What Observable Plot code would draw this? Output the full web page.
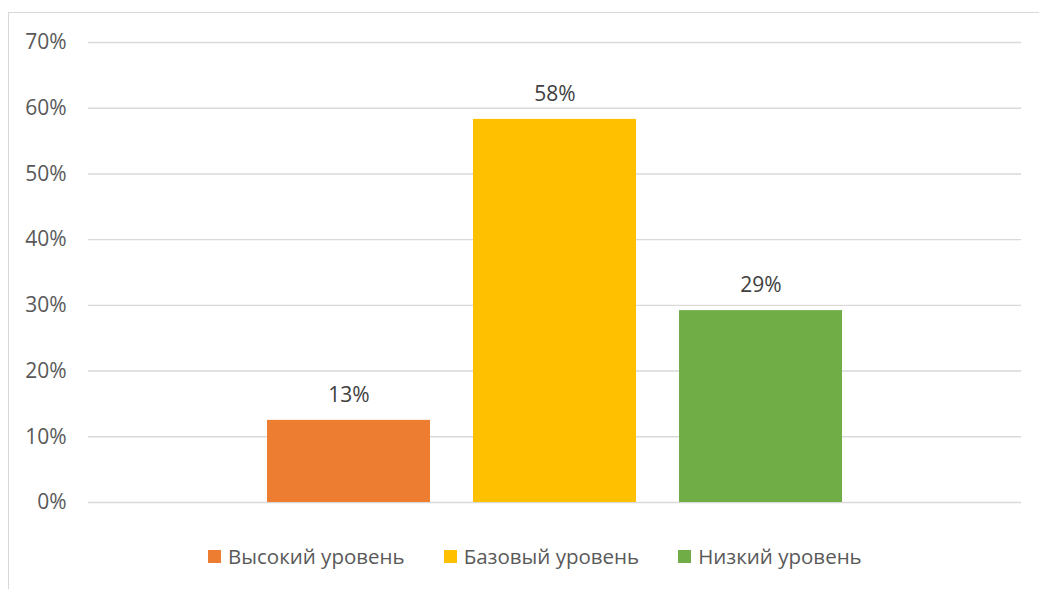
<!DOCTYPE html>
<html>
<head>
<meta charset="utf-8">
<script src="https://cdn.jsdelivr.net/npm/d3@7"></script>
<script src="https://cdn.jsdelivr.net/npm/@observablehq/plot@0.6"></script>
<style>
  html, body { margin: 0; padding: 0; background: #fff; overflow: hidden; width: 1039px; height: 589px; }
  #frame { position: absolute; left: 8px; top: 12px; width: 2000px; height: 2000px; border: 1.5px solid #d9d9d9; box-sizing: border-box; }
  #chart { position: absolute; left: 0; top: 0; }
  #legend { position: absolute; left: 208px; top: 542px; display: flex; align-items: center; font-family: "Open Sans", sans-serif; font-size: 20.5px; color: #595959; white-space: nowrap; }
  .item { display: flex; align-items: center; margin-right: 39px; }
  .sw { width: 13px; height: 13px; margin-right: 7px; }
</style>
</head>
<body>
<div id="frame"></div>
<div id="chart"></div>
<div id="legend"></div>
<script>
const categories = ["Высокий уровень", "Базовый уровень", "Низкий уровень"];
const values = [0.125, 0.583, 0.292];
const labels = ["13%", "58%", "29%"];
const colors = ["#ED7D31", "#FFC000", "#70AD47"];
const yTicks = [0, 0.1, 0.2, 0.3, 0.4, 0.5, 0.6, 0.7];

const data = categories.map((c, i) => ({cat: c, value: values[i], label: labels[i]}));

const chart = Plot.plot({
  width: 1039,
  height: 525,
  marginLeft: 88,
  marginRight: 18,
  marginTop: 42,
  marginBottom: 23,
  style: {fontFamily: "Open Sans, sans-serif", fontSize: "21px", color: "#595959", background: "transparent"},
  x: {domain: categories, paddingInner: 0.209, paddingOuter: 0.866, axis: null},
  y: {domain: [0, 0.7]},
  color: {domain: categories, range: colors},
  marks: [
    Plot.ruleY(yTicks, {stroke: "#d9d9d9", strokeWidth: 1.4}),
    Plot.axisY(yTicks, {tickSize: 0, tickPadding: 22, tickFormat: d => Math.round(d * 100) + "%", label: null, fontSize: 21}),
    Plot.barY(data, {x: "cat", y: "value", fill: "cat"}),
    Plot.text(data, {x: "cat", y: "value", text: "label", dy: -25, fill: "#404040", fontSize: 21})
  ]
});
document.getElementById("chart").appendChild(chart);

const legend = document.getElementById("legend");
categories.forEach((c, i) => {
  const item = document.createElement("div");
  item.className = "item";
  const sw = document.createElement("div");
  sw.className = "sw";
  sw.style.background = colors[i];
  const t = document.createElement("span");
  t.textContent = c;
  item.appendChild(sw);
  item.appendChild(t);
  legend.appendChild(item);
});
</script>
</body>
</html>
